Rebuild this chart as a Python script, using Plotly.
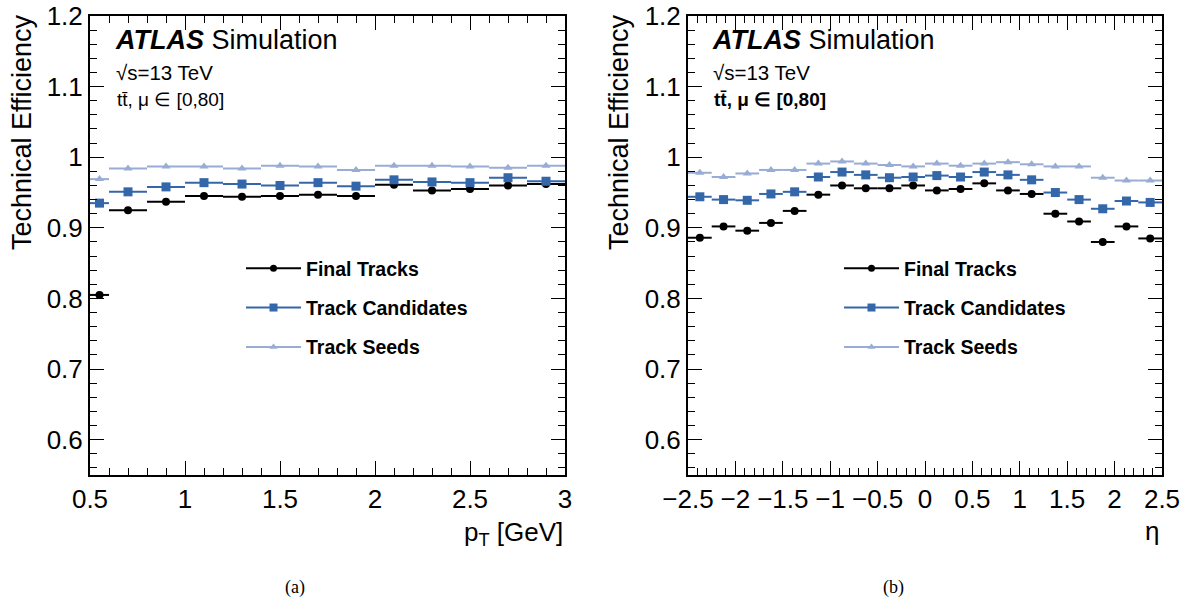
import plotly.graph_objects as go

# ---------------- data ----------------
pt_edges = [0.5, 0.6, 0.8, 1.0, 1.2, 1.4, 1.6, 1.8, 2.0, 2.2, 2.4, 2.6, 2.8, 3.0]
pt_final = [0.805, 0.925, 0.937, 0.945, 0.944, 0.945, 0.947, 0.945, 0.961, 0.953, 0.955, 0.960, 0.962]
pt_cand  = [0.935, 0.951, 0.958, 0.964, 0.962, 0.960, 0.964, 0.959, 0.968, 0.965, 0.964, 0.971, 0.966]
pt_seed  = [0.969, 0.984, 0.987, 0.987, 0.984, 0.988, 0.987, 0.982, 0.988, 0.988, 0.987, 0.985, 0.988]

eta_edges = [-2.5, -2.25, -2.0, -1.75, -1.5, -1.25, -1.0, -0.75, -0.5, -0.25, 0.0,
             0.25, 0.5, 0.75, 1.0, 1.25, 1.5, 1.75, 2.0, 2.25, 2.5]
eta_final = [0.886, 0.902, 0.896, 0.907, 0.924, 0.947, 0.960, 0.956, 0.956, 0.960,
             0.953, 0.955, 0.963, 0.953, 0.948, 0.920, 0.909, 0.880, 0.902, 0.885]
eta_cand  = [0.944, 0.940, 0.939, 0.948, 0.951, 0.972, 0.979, 0.975, 0.971, 0.972,
             0.974, 0.972, 0.979, 0.975, 0.968, 0.950, 0.940, 0.927, 0.938, 0.936]
eta_seed  = [0.978, 0.972, 0.977, 0.982, 0.982, 0.991, 0.994, 0.991, 0.989, 0.987,
             0.991, 0.988, 0.991, 0.993, 0.990, 0.987, 0.987, 0.971, 0.967, 0.967]

series_names = ["Final Tracks", "Track Candidates", "Track Seeds"]
y_ticks = [0.6, 0.7, 0.8, 0.9, 1.0, 1.1, 1.2]

# ---------------- style ----------------
W, H = 1187, 607
FONT = "Liberation Sans, Arial, Helvetica, sans-serif"
SERIF = "Liberation Serif, Times New Roman, serif"
colors = ["#000000", "#3466aa", "#98acd4"]
symbols = ["circle", "square", "triangle-up"]
msizes = [8, 9, 8]


def px(x):
    return x / W


def py(y):
    return 1 - y / H


def centers(edges):
    return [(a + b) / 2 for a, b in zip(edges[:-1], edges[1:])]


def halfw(edges):
    return [(b - a) / 2 for a, b in zip(edges[:-1], edges[1:])]


fig = go.Figure()

panels = [
    (pt_edges, [pt_final, pt_cand, pt_seed], "x", "y", "legend"),
    (eta_edges, [eta_final, eta_cand, eta_seed], "x2", "y2", "legend2"),
]

for edges, vals, xa, ya, leg in panels:
    xc = centers(edges)
    hw = halfw(edges)
    for i, v in enumerate(vals):
        fig.add_trace(go.Scatter(
            x=xc, y=v, xaxis=xa, yaxis=ya, mode="markers",
            marker=dict(color=colors[i], symbol=symbols[i], size=msizes[i]),
            error_x=dict(type="data", array=hw, symmetric=True, width=0,
                         thickness=2, color=colors[i]),
            showlegend=False, name=series_names[i]))
    for i in range(3):
        fig.add_trace(go.Scatter(
            x=[None], y=[None], xaxis=xa, yaxis=ya, mode="lines+markers",
            marker=dict(color=colors[i], symbol=symbols[i], size=msizes[i] - 1),
            line=dict(color=colors[i], width=2),
            name=series_names[i], legend=leg, legendgroup=f"{leg}{i}",
            showlegend=True))

axis_common = dict(
    showline=True, linecolor="black", linewidth=2, mirror="ticks",
    ticks="inside", ticklen=14, tickwidth=1.3, tickcolor="black",
    showgrid=False, zeroline=False, automargin=False,
    ticklabeloverflow="allow",
    tickfont=dict(family=FONT, size=26, color="black"),
)
minor_x = dict(dtick=0.1, ticklen=7, ticks="inside", tickcolor="black", tickwidth=1.2)
minor_y = dict(dtick=0.02, tick0=0.6, ticklen=7, ticks="inside", tickcolor="black", tickwidth=1.2)

x1_dom = [px(90), px(565)]
x2_dom = [px(688), px(1162)]
y_dom = [py(475), py(16)]

legend_common = dict(
    xanchor="left", yanchor="top", bgcolor="rgba(0,0,0,0)",
    tracegroupgap=11, traceorder="grouped", itemwidth=55,
    font=dict(family=FONT, size=19.5, color="black", weight="bold"),
)

fig.update_layout(
    template="none",
    width=W, height=H,
    margin=dict(l=0, r=0, t=0, b=0, pad=0, autoexpand=False),
    paper_bgcolor="white", plot_bgcolor="white",
    font=dict(family=FONT, color="black"),
    xaxis=dict(domain=x1_dom, anchor="y", range=[0.5, 3.0], dtick=0.5, tick0=0.5,
               minor=minor_x, ticklabelstandoff=0, **axis_common),
    yaxis=dict(domain=y_dom, anchor="x", range=[0.55, 1.2], tickvals=y_ticks,
               minor=minor_y, **axis_common),
    xaxis2=dict(domain=x2_dom, anchor="y2", range=[-2.5, 2.5], dtick=0.5, tick0=0,
                minor=minor_x, ticklabelstandoff=0, **axis_common),
    yaxis2=dict(domain=y_dom, anchor="x2", range=[0.55, 1.2], tickvals=y_ticks,
                minor=minor_y, **axis_common),
    legend=dict(x=px(241), y=py(249), **legend_common),
    legend2=dict(x=px(839), y=py(249), **legend_common),
)

annotations = []
for x0, bold_tt in [(113, False), (710, True)]:
    annotations.append(dict(x=px(x0), y=py(40), xref="paper", yref="paper",
                            xanchor="left", yanchor="middle", showarrow=False,
                            text="<b><i>ATLAS</i></b> Simulation",
                            font=dict(family=FONT, size=27, color="black")))
    annotations.append(dict(x=px(x0 + 1), y=py(73), xref="paper", yref="paper",
                            xanchor="left", yanchor="middle", showarrow=False,
                            text="\u221as=13 TeV",
                            font=dict(family=FONT, size=20.5, color="black")))
    tt = "tt\u0304, \u03bc \u2208 [0,80]"
    annotations.append(dict(x=px(x0 + 2), y=py(100), xref="paper", yref="paper",
                            xanchor="left", yanchor="middle", showarrow=False,
                            text=("<b>" + tt + "</b>") if bold_tt else tt,
                            font=dict(family=FONT, size=19, color="black")))
    # y-axis title
    annotations.append(dict(x=px(x0 - 91), y=py(12), xref="paper", yref="paper",
                            xanchor="center", yanchor="top", showarrow=False,
                            textangle=-90, text="Technical Efficiency",
                            font=dict(family=FONT, size=27, color="black")))

annotations.append(dict(x=px(565), y=py(533), xref="paper", yref="paper",
                        xanchor="right", yanchor="middle", showarrow=False,
                        text="p<sub>T</sub> [GeV]",
                        font=dict(family=FONT, size=26, color="black")))
annotations.append(dict(x=px(1161), y=py(531), xref="paper", yref="paper",
                        xanchor="right", yanchor="middle", showarrow=False,
                        text="\u03b7",
                        font=dict(family=FONT, size=26, color="black")))
annotations.append(dict(x=px(295), y=py(587), xref="paper", yref="paper",
                        xanchor="center", yanchor="middle", showarrow=False,
                        text="(a)", font=dict(family=SERIF, size=18, color="black")))
annotations.append(dict(x=px(893), y=py(587), xref="paper", yref="paper",
                        xanchor="center", yanchor="middle", showarrow=False,
                        text="(b)", font=dict(family=SERIF, size=18, color="black")))

fig.update_layout(annotations=annotations)

# remove the default page margin so the 1187x607 figure fills the window exactly
fig.write_html("out.html",
               config={"displayModeBar": False},
               post_script="document.body.style.margin='0px';document.body.style.overflow='hidden';")
